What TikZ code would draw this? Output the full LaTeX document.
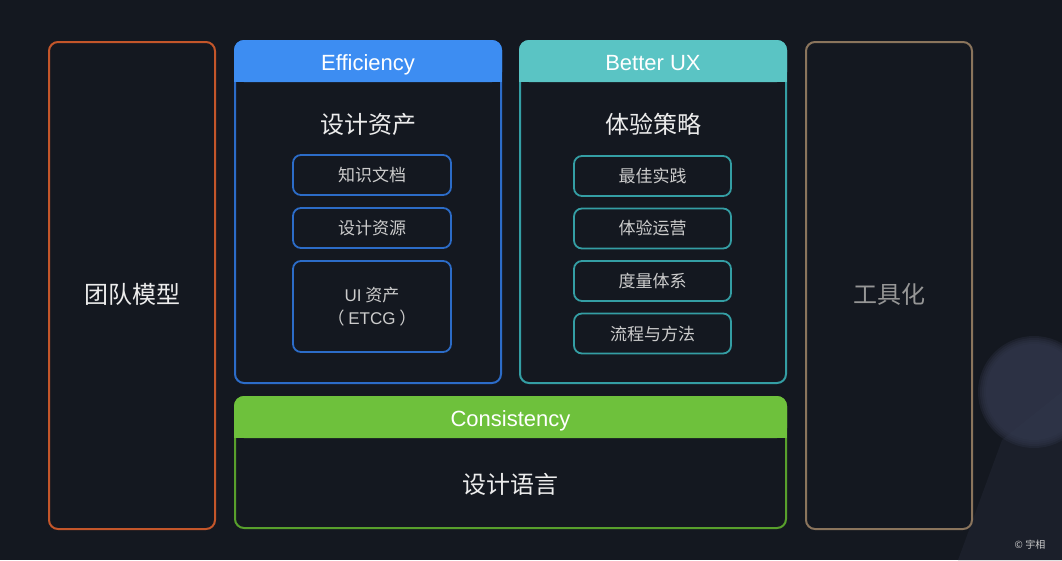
\documentclass[tikz,border=0pt]{standalone}
\usepackage{fontspec}
\setmainfont{Liberation Sans}
\newfontfamily\cjk{Noto Sans CJK SC}
\usetikzlibrary{positioning, calc}
\definecolor{bgdark}{RGB}{20,24,32}
\definecolor{beamgrey}{RGB}{27,31,42}
\definecolor{glowgrey}{RGB}{50,56,77}
\definecolor{efffill}{RGB}{61,141,242}
\definecolor{effline}{RGB}{44,108,200}
\definecolor{uxfill}{RGB}{90,196,196}
\definecolor{uxline}{RGB}{52,158,164}
\definecolor{consfill}{RGB}{110,193,60}
\definecolor{consline}{RGB}{88,160,44}
\definecolor{teamline}{RGB}{196,86,42}
\definecolor{toolline}{RGB}{138,116,92}
\definecolor{textwhite}{RGB}{236,236,236}
\definecolor{textgrey}{RGB}{204,204,204}
\definecolor{tooltext}{RGB}{150,150,150}
\tikzstyle{panel} = [rectangle, rounded corners=9pt, line width=2pt, outer sep=0pt, inner sep=0pt, fill=bgdark]
\tikzstyle{headtext} = [text=white, anchor=base, font=\fontsize{22}{24}\selectfont]
\tikzstyle{titletext} = [text=textwhite, font=\cjk\fontsize{24}{26}\selectfont]
\tikzstyle{item} = [rectangle, rounded corners=8pt, line width=1.8pt, minimum height=40pt, inner sep=0pt, outer sep=0pt, text=textgrey, align=center, font=\cjk\fontsize{17}{23}\selectfont]

\begin{document}
\begin{tikzpicture}[x=1pt, y=-1pt]
        \fill[bgdark] (0,0) rectangle (1062,560);
        \useasboundingbox (0,0) rectangle (1062,560);
        \fill[beamgrey] (958,560) -- (1002,440) -- (1062,392) -- (1062,560) -- cycle;
        \foreach \r in {56,54,52,50,48}
            \fill[glowgrey, opacity=0.3] (1034,392) circle (\r pt);

        \node (team) [panel, draw=teamline, minimum width=166pt, minimum height=487pt] at (132,285.5) {};
        \node (tool) [panel, draw=toolline, minimum width=166pt, minimum height=487pt] at (889,285.5) {};
        \node (eff) [panel, draw=effline, minimum width=266pt, minimum height=342pt] at (368,212) {};
        \node (ux) [panel, draw=uxline, minimum width=266pt, minimum height=342pt] at (653,212) {};
        \node (cons) [panel, draw=consline, minimum width=551pt, minimum height=131pt] at (510.5,462.5) {};

        \fill[efffill, rounded corners=10pt] ([xshift=-1pt,yshift=1pt]eff.north west) rectangle ([xshift=1pt,yshift=-41pt]eff.north east);
        \fill[efffill] ([xshift=-1pt,yshift=-25pt]eff.north west) rectangle ([xshift=1pt,yshift=-41pt]eff.north east);
        \fill[uxfill, rounded corners=10pt] ([xshift=-1pt,yshift=1pt]ux.north west) rectangle ([xshift=1pt,yshift=-41pt]ux.north east);
        \fill[uxfill] ([xshift=-1pt,yshift=-25pt]ux.north west) rectangle ([xshift=1pt,yshift=-41pt]ux.north east);
        \fill[consfill, rounded corners=10pt] ([xshift=-1pt,yshift=1pt]cons.north west) rectangle ([xshift=1pt,yshift=-41pt]cons.north east);
        \fill[consfill] ([xshift=-1pt,yshift=-25pt]cons.north west) rectangle ([xshift=1pt,yshift=-41pt]cons.north east);

        \node (effhead) [headtext] at ([yshift=-29pt]eff.north) {Efficiency};
        \node (uxhead) [headtext] at ([yshift=-29pt]ux.north) {Better UX};
        \node (conshead) [headtext] at ([yshift=-29pt]cons.north) {Consistency};

        \node (teamlabel) [titletext] at ([yshift=-8.5pt]team.center) {团队模型};
        \node (toollabel) [titletext, text=tooltext] at ([yshift=-8.5pt]tool.center) {工具化};
        \node (asset) [titletext] at ([yshift=-83pt]eff.north) {设计资产};
        \node (strategy) [titletext] at ([yshift=-83pt]ux.north) {体验策略};
        \node (language) [titletext] at ([yshift=-87pt]cons.north) {设计语言};

        \node (knowledge) [item, draw=effline, minimum width=158pt] at (372,175) {知识文档};
        \node (resource) [item, draw=effline, minimum width=158pt, below=13pt of knowledge] {设计资源};
        \node (uiasset) [item, draw=effline, minimum width=158pt, minimum height=91pt, below=13pt of resource] {{\rmfamily UI} 资产\\（ {\rmfamily ETCG} ）};

        \node (practice) [item, draw=uxline, minimum width=157pt] at (652.5,176) {最佳实践};
        \node (operation) [item, draw=uxline, minimum width=157pt, below=12.5pt of practice] {体验运营};
        \node (metric) [item, draw=uxline, minimum width=157pt, below=12.5pt of operation] {度量体系};
        \node (process) [item, draw=uxline, minimum width=157pt, below=12.5pt of metric] {流程与方法};

        \node (mark) [text=textgrey, font=\cjk\fontsize{10}{12}\selectfont] at (1030,545) {© 宇相};
        
        \end{tikzpicture}
\end{document}
